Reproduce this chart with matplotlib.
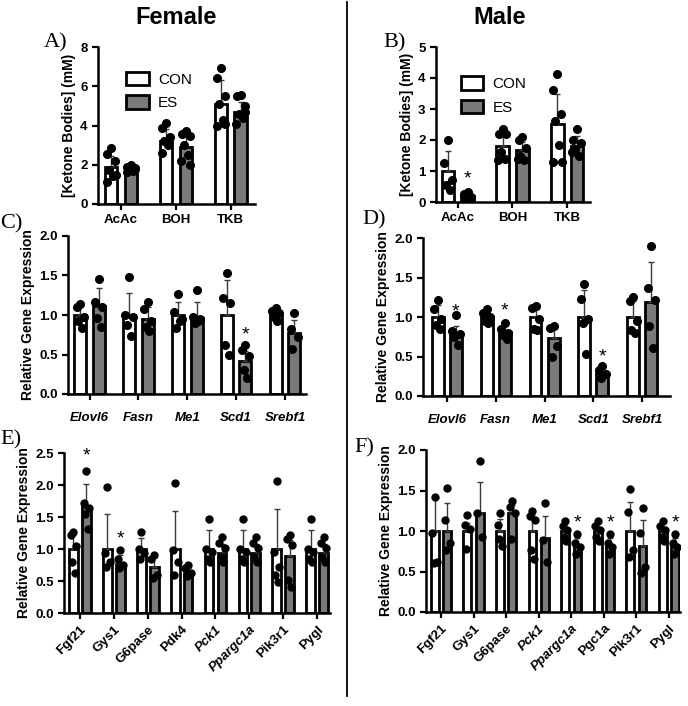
import numpy as np
import matplotlib
matplotlib.use('agg')
import matplotlib.pyplot as plt
from matplotlib.lines import Line2D
from matplotlib.patches import Patch

plt.rcParams['font.family'] = ['Liberation Sans', 'DejaVu Sans']
plt.rcParams['font.weight'] = 'bold'

## data (mean, SD above mean, individual points)
ket_groups = ['AcAc', 'BOH', 'TKB']

# A) female ketone bodies
fA_con_mean = [1.9, 3.23, 5.11]
fA_con_sd = [0.55, 0.6, 1.2]
fA_es_mean = [1.78, 2.89, 4.69]
fA_es_sd = [0.12, 0.6, 0.5]
fA_con_pts = [[2.85, 2.56, 2.17, 1.75, 1.41, 1.10, 1.5],
              [4.13, 3.85, 3.4, 3.2, 3.0, 2.6],
              [6.93, 6.42, 5.5, 5.1, 4.3, 4.0, 4.1]]
fA_es_pts = [[1.98, 1.9, 1.82, 1.75, 1.7, 1.65, 1.8],
             [3.73, 3.55, 3.45, 3.0, 2.5, 2.2, 2.0],
             [5.55, 5.5, 5.0, 4.6, 4.4, 4.1, 4.7]]
fA_stars = [None, None, None]

# B) male ketone bodies
mB_con_mean = [1.0, 1.82, 2.53]
mB_con_sd = [0.63, 0.43, 0.97]
mB_es_mean = [0.18, 1.68, 1.8]
mB_es_sd = [0.1, 0.27, 0.32]
mB_con_pts = [[2.0, 1.25, 0.7, 0.55, 0.4],
              [2.35, 2.2, 2.2, 1.6, 1.4, 1.35],
              [4.12, 3.6, 2.85, 2.6, 1.85, 1.3, 1.3]]
mB_es_pts = [[0.32, 0.25, 0.15, 0.1, 0.12],
             [2.1, 2.0, 1.75, 1.5, 1.35, 1.4],
             [2.35, 2.0, 1.9, 1.7, 1.5, 1.6]]
mB_stars = [0.75, None, None]

lipo_genes = ['Elovl6', 'Fasn', 'Me1', 'Scd1', 'Srebf1']

# C) female lipogenic genes
fC_con_mean = [1.0, 1.0, 1.0, 1.0, 1.0]
fC_con_sd = [0.12, 0.28, 0.17, 0.44, 0.05]
fC_es_mean = [1.11, 0.95, 0.96, 0.42, 0.77]
fC_es_sd = [0.23, 0.15, 0.21, 0.13, 0.17]
fC_con_pts = [[1.14, 1.1, 0.98, 0.93, 0.83], [1.48, 1.0, 0.97, 0.87, 0.73],
              [1.26, 1.04, 0.95, 0.83, 0.92], [1.53, 1.22, 1.15, 0.62, 0.49],
              [1.09, 1.05, 1.02, 0.97, 0.93]]
fC_es_pts = [[1.46, 1.16, 1.1, 0.96, 0.85], [1.17, 1.07, 0.93, 0.85, 0.8],
             [1.32, 0.97, 0.95, 0.9, 0.92], [0.62, 0.56, 0.48, 0.3, 0.2],
             [1.03, 0.82, 0.72, 0.57]]
fC_stars = [None, None, None, 0.75, None]

# D) male lipogenic genes
mD_con_mean = [1.0, 1.0, 1.0, 1.0, 1.0]
mD_con_sd = [0.15, 0.06, 0.1, 0.34, 0.2]
mD_es_mean = [0.77, 0.81, 0.74, 0.29, 1.19]
mD_es_sd = [0.11, 0.09, 0.13, 0.06, 0.5]
mD_con_pts = [[1.22, 1.1, 0.98, 0.9, 0.85], [1.1, 1.05, 1.0, 0.95, 0.93],
              [1.14, 1.12, 0.97, 0.85, 0.83], [1.42, 1.23, 0.97, 0.93, 0.53],
              [1.25, 1.2, 0.95, 0.83, 0.8]]
mD_es_pts = [[1.03, 0.82, 0.78, 0.75, 0.65], [0.92, 0.85, 0.8, 0.77, 0.72],
             [0.88, 0.86, 0.63, 0.5], [0.38, 0.33, 0.28, 0.23],
             [1.9, 1.37, 1.22, 0.88, 0.61]]
mD_stars = [1.07, 1.08, None, 0.5, None]

# E) female glucose/hepatic genes
fE_genes = ['Fgf21', 'Gys1', 'G6pase', 'Pdk4', 'Pck1', 'Ppargc1a', 'Pik3r1', 'Pygl']
fE_con_mean = [1.0, 1.0, 1.0, 1.0, 1.0, 1.0, 1.0, 1.0]
fE_con_sd = [0.22, 0.54, 0.17, 0.6, 0.29, 0.29, 0.62, 0.29]
fE_es_mean = [1.65, 0.77, 0.72, 0.63, 0.94, 0.94, 0.89, 0.94]
fE_es_sd = [0.36, 0.13, 0.15, 0.08, 0.14, 0.14, 0.25, 0.14]
fE_con_pts = [[1.27, 1.22, 1.05, 0.8, 0.62], [1.97, 0.93, 0.8, 0.72],
              [1.26, 1.0, 0.93, 0.85], [2.03, 0.98, 0.8, 0.59],
              [1.47, 1.0, 0.95, 0.85, 0.8], [1.47, 1.0, 0.95, 0.85, 0.8],
              [2.07, 0.96, 0.72, 0.59, 0.49], [1.47, 1.0, 0.95, 0.85, 0.8]]
fE_es_pts = [[2.22, 1.72, 1.64, 1.55, 1.31], [0.99, 0.84, 0.75, 0.7],
             [0.9, 0.85, 0.6, 0.55], [0.75, 0.7, 0.62, 0.58],
             [1.18, 1.09, 1.01, 0.88, 0.8], [1.18, 1.09, 1.01, 0.88, 0.8],
             [1.22, 1.15, 1.06, 0.51, 0.41], [1.18, 1.09, 1.01, 0.88, 0.8]]
fE_stars = [2.45, 1.15, None, None, None, None, None, None]

# F) male glucose/hepatic genes
mF_genes = ['Fgf21', 'Gys1', 'G6pase', 'Pck1', 'Ppargc1a', 'Pgc1a', 'Pik3r1', 'Pygl']
mF_con_mean = [1.0, 1.0, 1.0, 1.0, 1.0, 1.0, 1.0, 1.0]
mF_con_sd = [0.42, 0.1, 0.15, 0.2, 0.05, 0.05, 0.36, 0.05]
mF_es_mean = [1.0, 1.22, 1.22, 0.91, 0.81, 0.81, 0.81, 0.81]
mF_es_sd = [0.35, 0.39, 0.1, 0.27, 0.1, 0.1, 0.32, 0.1]
mF_con_pts = [[1.42, 0.98, 0.62, 0.6], [1.2, 1.07, 1.03, 0.78],
              [1.22, 1.07, 0.82, 0.9], [1.25, 1.18, 1.13, 0.76, 0.65],
              [1.12, 1.06, 1.01, 0.93, 0.88], [1.12, 1.06, 1.01, 0.93, 0.88],
              [1.52, 1.24, 0.76, 0.68], [1.12, 1.06, 1.01, 0.93, 0.88]]
mF_es_pts = [[1.53, 1.14, 0.85, 0.76], [1.87, 1.22, 0.93],
             [1.37, 1.3, 1.22, 0.9], [1.35, 0.89, 0.62],
             [0.96, 0.85, 0.8, 0.72], [0.96, 0.85, 0.8, 0.72],
             [1.28, 0.97, 0.56, 0.48], [0.96, 0.85, 0.8, 0.72]]
mF_stars = [None, None, None, None, 1.1, 1.1, None, 1.1]

W, H = 688.0, 706.0
jit = [0.0, -0.3, 0.3, -0.15, 0.15, -0.35, 0.35]
ES_GREY = '#7a7a7a'


def box(l, r, t, b):
    return [l / W, 1 - b / H, (r - l) / W, (b - t) / H]


def panel(rect, cats, cm, csd, cp, em, esd, ep, stars, xlim, ylim, yticks,
          off, w, ylabel, fmt='%.1f', rot=False, italic=(), ms=4.5, lw=2.0, xpad=3.5):
    ax = fig.add_axes(rect)
    x = np.arange(len(cats))
    ax.bar(x - off, cm, width=w, color='white', edgecolor='black', linewidth=lw, zorder=2)
    ax.bar(x + off, em, width=w, color=ES_GREY, edgecolor='black', linewidth=lw, zorder=2)
    z = np.zeros(len(cats))
    ax.errorbar(x - off, cm, yerr=[z, csd], fmt='none', ecolor='#3a3a3a', elinewidth=1, capsize=2.5, zorder=3)
    ax.errorbar(x + off, em, yerr=[z, esd], fmt='none', ecolor='#3a3a3a', elinewidth=1, capsize=2.5, zorder=3)
    for i in range(len(cats)):
        for k, v in enumerate(cp[i]):
            ax.plot(x[i] - off + jit[k % 7] * w, v, 'o', color='black', ms=ms, zorder=4)
        for k, v in enumerate(ep[i]):
            ax.plot(x[i] + off + jit[k % 7] * w, v, 'o', color='black', ms=ms, zorder=4)
        if stars[i] is not None:
            ax.text(x[i] + off, stars[i], '*', ha='center', va='center', fontsize=14,
                    fontweight='normal', zorder=5)
    ax.set_xlim(*xlim)
    ax.set_ylim(*ylim)
    ax.spines['top'].set_visible(False)
    ax.spines['right'].set_visible(False)
    ax.spines['left'].set_linewidth(1.8)
    ax.spines['bottom'].set_linewidth(1.8)
    ax.tick_params(axis='both', width=1.6, length=4)
    ax.tick_params(axis='x', pad=xpad)
    ax.set_yticks(yticks)
    ax.set_yticklabels([fmt % t for t in yticks], fontsize=9.5, fontweight='bold')
    ax.set_xticks(x)
    if rot:
        ax.set_xticklabels(cats, fontsize=9.5, fontweight='bold', rotation=45,
                           ha='right', rotation_mode='anchor')
    else:
        ax.set_xticklabels(cats, fontsize=9.5, fontweight='bold')
    for lab in ax.get_xticklabels():
        if lab.get_text() in italic:
            lab.set_fontstyle('italic')
    ax.set_ylabel(ylabel, fontsize=10, fontweight='bold', labelpad=3)
    return ax


fig = plt.figure(figsize=(6.88, 7.06), dpi=100)

axA = panel(box(98, 255, 47, 204), ket_groups, fA_con_mean, fA_con_sd, fA_con_pts,
            fA_es_mean, fA_es_sd, fA_es_pts, fA_stars, (-0.42, 2.44), (0, 8),
            [0, 2, 4, 6, 8], 0.18, 0.23, '[Ketone Bodies] (mM)', fmt='%d', ms=5.5)
axB = panel(box(436, 590, 47, 202), ket_groups, mB_con_mean, mB_con_sd, mB_con_pts,
            mB_es_mean, mB_es_sd, mB_es_pts, mB_stars, (-0.40, 2.42), (0, 5),
            [0, 1, 2, 3, 4, 5], 0.18, 0.23, '[Ketone Bodies] (mM)', fmt='%d', ms=5.5)
axC = panel(box(68, 306, 236, 394), lipo_genes, fC_con_mean, fC_con_sd, fC_con_pts,
            fC_es_mean, fC_es_sd, fC_es_pts, fC_stars, (-0.44, 4.43), (0, 2),
            [0, 0.5, 1.0, 1.5, 2.0], 0.19, 0.245, 'Relative Gene Expression',
            italic=lipo_genes, ms=5.5, xpad=9)
axD = panel(box(423, 670, 238, 396), lipo_genes, mD_con_mean, mD_con_sd, mD_con_pts,
            mD_es_mean, mD_es_sd, mD_es_pts, mD_stars, (-0.49, 4.57), (0, 2),
            [0, 0.5, 1.0, 1.5, 2.0], 0.185, 0.245, 'Relative Gene Expression',
            italic=lipo_genes, ms=5.5, xpad=9)
axE = panel(box(64, 330, 453, 613), fE_genes, fE_con_mean, fE_con_sd, fE_con_pts,
            fE_es_mean, fE_es_sd, fE_es_pts, fE_stars, (-0.47, 7.38), (0, 2.5),
            [0, 0.5, 1.0, 1.5, 2.0, 2.5], 0.19, 0.26, 'Relative Gene Expression',
            rot=True, italic=('Pck1', 'Ppargc1a'), ms=5)
axF = panel(box(426, 680, 450, 612), mF_genes, mF_con_mean, mF_con_sd, mF_con_pts,
            mF_es_mean, mF_es_sd, mF_es_pts, mF_stars, (-0.46, 7.34), (0, 2),
            [0, 0.5, 1.0, 1.5, 2.0], 0.19, 0.24, 'Relative Gene Expression',
            rot=True, italic=('Pck1', 'Ppargc1a'), ms=5)

# legends
hands = [Patch(facecolor='white', edgecolor='black', linewidth=2, label='CON'),
         Patch(facecolor=ES_GREY, edgecolor='black', linewidth=2, label='ES')]
for ax, bx, by in [(axA, 0.09, 0.93), (axB, 0.07, 0.90)]:
    ax.legend(handles=hands, loc='upper left', bbox_to_anchor=(bx, by), frameon=False,
              handlelength=1.5, handleheight=1.0, handletextpad=0.6,
              labelspacing=0.55, prop={'size': 11, 'weight': 'normal'})

# panel letters
for lab, px, py in [('A)', 44, 43), ('B)', 383, 43), ('C)', 0, 224), ('D)', 362, 220),
                    ('E)', 0, 440), ('F)', 354, 448)]:
    fig.text(px / W, 1 - py / H, lab, family='Liberation Serif', fontsize=16,
             fontweight='normal', va='center', ha='left')

fig.text(176 / W, 1 - 17 / H, 'Female', fontsize=17, fontweight='bold', ha='center', va='center')
fig.text(500 / W, 1 - 17 / H, 'Male', fontsize=17, fontweight='bold', ha='center', va='center')

fig.add_artist(Line2D([347 / W, 347 / W], [1 - 2 / H, 1 - 696 / H], color='black', linewidth=1.3))

fig.savefig('out.png', dpi=100)
